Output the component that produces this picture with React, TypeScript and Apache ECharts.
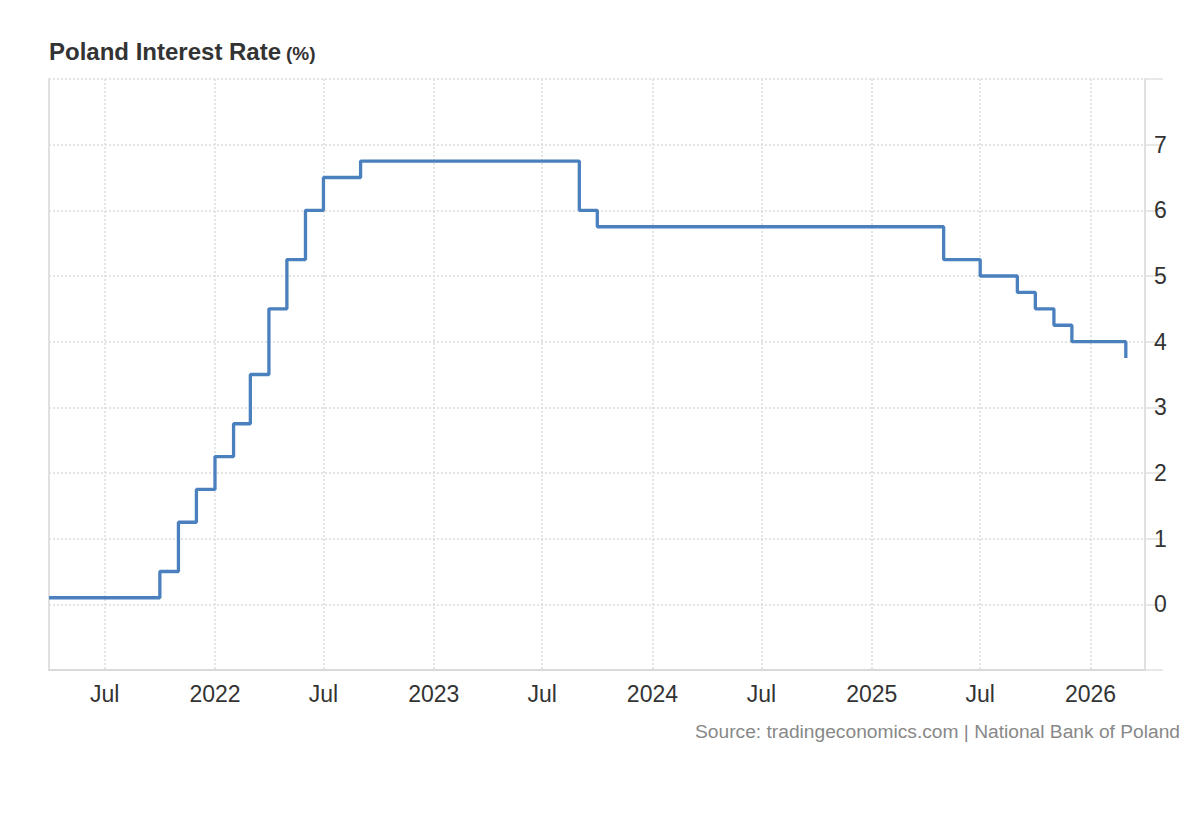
import React, { useEffect, useRef } from "react";
import * as echarts from "echarts";

const axisStart = "2021-03-30";
const axisEnd = "2026-04-02";
const dates = [
  "2021-03-30", "2021-10-01", "2021-11-01", "2021-12-01", "2022-01-01", "2022-02-01",
  "2022-03-01", "2022-04-01", "2022-05-01", "2022-06-01", "2022-07-01", "2022-09-01",
  "2023-09-01", "2023-10-01", "2025-05-01", "2025-07-01", "2025-09-01", "2025-10-01",
  "2025-11-01", "2025-12-01", "2026-03-01",
];
const rates = [
  0.1, 0.5, 1.25, 1.75, 2.25, 2.75,
  3.5, 4.5, 5.25, 6.0, 6.5, 6.75,
  6.0, 5.75, 5.25, 5.0, 4.75, 4.5,
  4.25, 4.0, 3.75,
];
const monthNames = ["Jan", "Feb", "Mar", "Apr", "May", "Jun", "Jul", "Aug", "Sep", "Oct", "Nov", "Dec"];
const yHiddenLabels = [-1, 8];

const FONT = 'Arial, "Liberation Sans", Helvetica, sans-serif';

export default function App() {
  const ref = useRef<HTMLDivElement>(null);
  useEffect(() => {
    document.body.style.margin = "0";
    if (!ref.current) return;
    const chart = echarts.init(ref.current, undefined, { renderer: "svg" });
    const seriesData = dates.map((d, i) => [d, rates[i]]);
    const dotted = { color: "#dcdcdc", width: 1.5, type: [2, 2] as number[] };
    chart.setOption({
      animation: false,
      textStyle: { fontFamily: FONT },
      title: {
        left: 44,
        top: 34,
        text: "{a|Poland Interest Rate} {b|(%)}",
        textStyle: {
          rich: {
            a: { fontSize: 24, fontWeight: "bold", color: "#333", fontFamily: FONT },
            b: { fontSize: 19, fontWeight: "bold", color: "#333", fontFamily: FONT, padding: [4, 0, 0, 0] },
          },
        },
      },
      graphic: [
        {
          type: "text",
          right: 20,
          top: 722,
          style: {
            text: "Source: tradingeconomics.com | National Bank of Poland",
            fontSize: 19.2,
            fill: "#888",
            fontFamily: FONT,
          },
        },
      ],
      grid: { left: 49, right: 55, top: 79, bottom: 150 },
      xAxis: {
        type: "time",
        min: axisStart,
        max: axisEnd,
        splitNumber: 10,
        axisLine: { show: true, onZero: false, lineStyle: { color: "#d9d9d9", width: 2 } },
        axisTick: { show: false },
        axisLabel: {
          fontSize: 23,
          color: "#333",
          margin: 12,
          showMinLabel: false,
          showMaxLabel: false,
          formatter: (v: number) => {
            const d = new Date(v);
            return d.getMonth() === 0 ? String(d.getFullYear()) : monthNames[d.getMonth()];
          },
        },
        splitLine: { show: true, lineStyle: dotted },
      },
      yAxis: [
        {
          type: "value",
          position: "right",
          min: -1,
          max: 8,
          interval: 1,
          axisLine: { show: true, lineStyle: { color: "#e0e0e0", width: 2 } },
          axisTick: { show: true, length: 18, lineStyle: { color: "#e0e0e0", width: 1.5 } },
          axisLabel: {
            fontSize: 23,
            color: "#333",
            margin: 9,
            formatter: (v: number) => (yHiddenLabels.includes(v) ? "" : String(v)),
          },
          splitLine: { show: true, lineStyle: dotted },
        },
        {
          type: "value",
          position: "left",
          min: -1,
          max: 8,
          interval: 1,
          axisLine: { show: true, lineStyle: { color: "#e0e0e0", width: 2 } },
          axisTick: { show: false },
          axisLabel: { show: false },
          splitLine: { show: false },
        },
      ],
      series: [
        {
          type: "line",
          step: "end",
          yAxisIndex: 0,
          data: seriesData,
          showSymbol: false,
          lineStyle: { color: "#4b80be", width: 3.3 },
        },
      ],
    });
    return () => chart.dispose();
  }, []);
  return <div ref={ref} style={{ width: 1200, height: 820 }} />;
}
